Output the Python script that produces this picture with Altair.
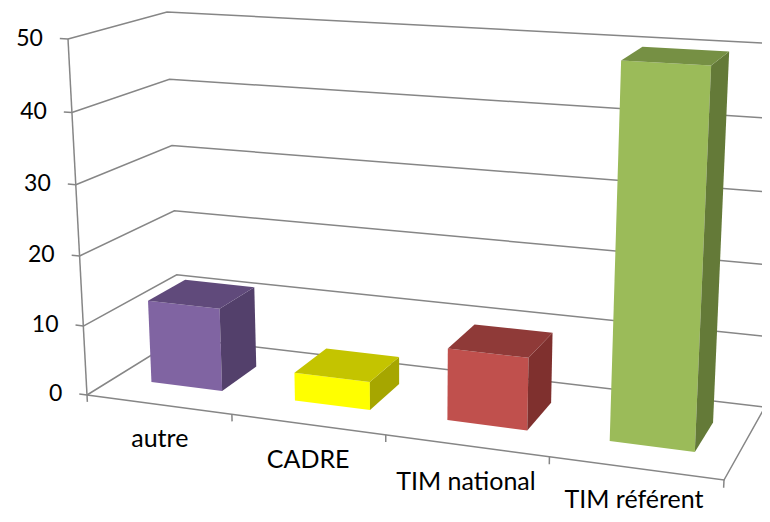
import numpy as np
import pandas as pd
import altair as alt

categories = ["autre", "CADRE", "TIM national", "TIM référent"]
values = [12, 4, 10, 50]
y_ticks = [0, 10, 20, 30, 40, 50]
front_colors = ["#8064A2", "#FFFF00", "#C0504D", "#9BBB59"]
top_colors = ["#604A7B", "#C4C400", "#8F3A38", "#769044"]
side_colors = ["#53406B", "#A6A600", "#7F302E", "#647A38"]
GRID = "#868686"
FONT = "Lato"

# Page positions of the eight corners of the 3-D box: (right?, back?, top?)
corners = {
    (0, 0, 0): (87, 395), (0, 0, 1): (68, 39),
    (0, 1, 0): (179, 338), (0, 1, 1): (167, 12),
    (1, 0, 0): (724, 480), (1, 0, 1): (743, 79),
    (1, 1, 0): (765, 407), (1, 1, 1): (783, 44),
}
U_MAX, H_MAX = 4, 50
U_WARP, H_WARP = -0.0292, -0.00078  # perspective foreshortening along each edge


def project(u, v, h):
    a = u * (1 + U_MAX * U_WARP) / (U_MAX * (1 + U_WARP * u))
    c = h * (1 + H_MAX * H_WARP) / (H_MAX * (1 + H_WARP * h))
    x = y = 0.0
    for (i, j, k), (px, py) in corners.items():
        w = (a if i else 1 - a) * (v if j else 1 - v) * (c if k else 1 - c)
        x += w * px
        y += w * py
    return x, y


lines, faces = [], []


def add_line(name, pts):
    for k, p in enumerate(pts):
        x, y = project(*p)
        lines.append({"id": name, "k": k, "x": x, "y": y})


def add_face(name, color, pts):
    for k, p in enumerate(pts):
        x, y = project(*p)
        faces.append({"id": name, "k": k, "x": x, "y": y, "c": color})


n = len(categories)
for t in y_ticks:
    add_line(f"g{t}", [(0, 0, t), (0, 1, t), (n, 1, t)])
    add_line(f"t{t}", [(-0.055, 0, t), (0, 0, t)])
add_line("axis", [(0, 0, 0), (0, 0, max(y_ticks))])
add_line("front", [(0, 0, 0), (n, 0, 0), (n, 1, 0)])
for i in range(n + 1):
    add_line(f"c{i}", [(i, 0, 0), (i, 0, -1)])

U0, U1, V0, V1 = 0.26, 0.76, 0.31, 0.72
for i, val in enumerate(values):
    a, b = i + U0, i + U1
    add_face(f"f{i}", front_colors[i], [(a, V0, 0), (b, V0, 0), (b, V0, val), (a, V0, val)])
    add_face(f"s{i}", side_colors[i], [(b, V0, 0), (b, V1, 0), (b, V1, val), (b, V0, val)])
    add_face(f"o{i}", top_colors[i], [(a, V0, val), (b, V0, val), (b, V1, val), (a, V1, val)])

ylabels = []
for t in y_ticks:
    x, y = project(-0.055, 0, t)
    ylabels.append({"x": x, "y": y, "t": str(t)})
xlabels = []
for i, c in enumerate(categories):
    x, y = project(i + 0.5, 0, -5.0)
    xlabels.append({"x": x, "y": min(y, 500), "t": c})

X = alt.X("x:Q", scale=alt.Scale(domain=[8, 762], nice=False, zero=False), axis=None)
Y = alt.Y("y:Q", scale=alt.Scale(domain=[514, 8], nice=False, zero=False), axis=None)

line_layer = alt.Chart(pd.DataFrame(lines)).mark_line(color=GRID, strokeWidth=1.5, clip=True).encode(
    x=X, y=Y, detail="id:N", order="k:Q")
face_layer = alt.Chart(pd.DataFrame(faces)).mark_line(filled=True, strokeWidth=0, clip=True).encode(
    x=X, y=Y, detail="id:N", order="k:Q", color=alt.Color("c:N", scale=None))
ylab = alt.Chart(pd.DataFrame(ylabels)).mark_text(
    font=FONT, fontSize=23, align="right", baseline="middle", dx=-17, color="#000000").encode(x=X, y=Y, text="t:N")
xlab = alt.Chart(pd.DataFrame(xlabels)).mark_text(
    font=FONT, fontSize=25, align="center", baseline="middle", color="#000000").encode(x=X, y=Y, text="t:N")

chart = alt.layer(line_layer, face_layer, ylab, xlab).properties(
    width=754, height=506, autosize=alt.AutoSizeParams(type="none"), padding=0
).configure_view(stroke=None)
chart.save("out.html", embed_options={"renderer": "svg", "actions": False})
